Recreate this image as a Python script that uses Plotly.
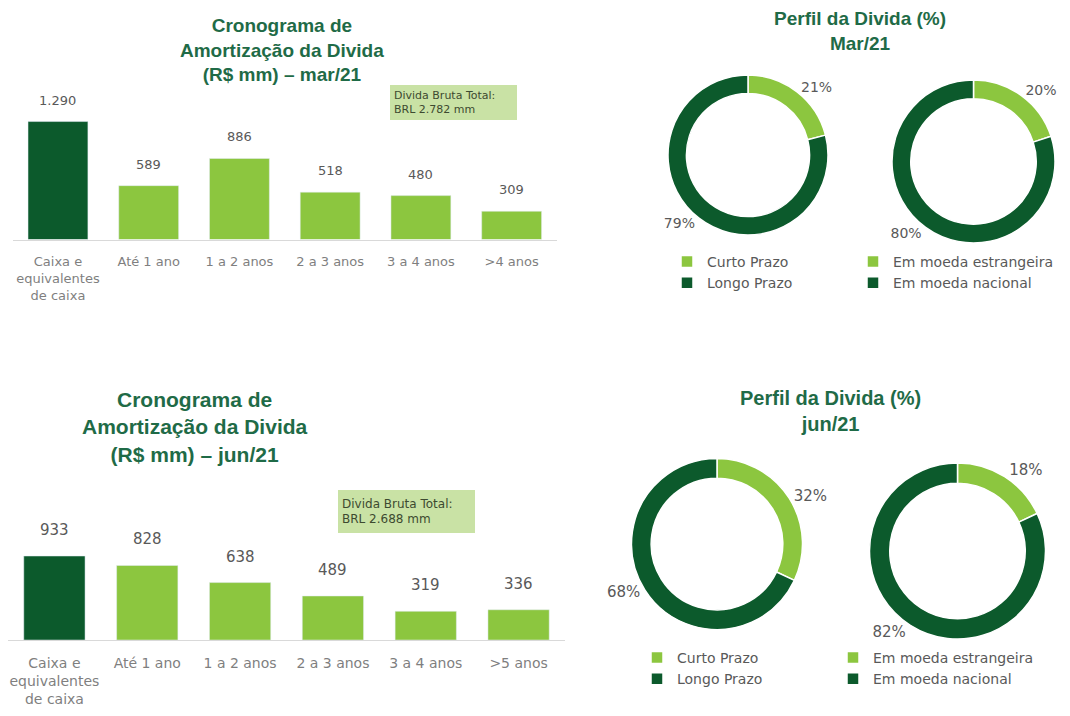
import plotly.graph_objects as go

# ---------------- data ----------------
categories_mar = ["Caixa e<br>equivalentes<br>de caixa", "Até 1 ano", "1 a 2 anos",
                  "2 a 3 anos", "3 a 4 anos", ">4 anos"]
values_mar = [1290, 589, 886, 518, 480, 309]

categories_jun = ["Caixa e<br>equivalentes<br>de caixa", "Até 1 ano", "1 a 2 anos",
                  "2 a 3 anos", "3 a 4 anos", ">5 anos"]
values_jun = [933, 828, 638, 489, 319, 336]

total_mar = "BRL 2.782 mm"
total_jun = "BRL 2.688 mm"

prazo_labels = ["Curto Prazo", "Longo Prazo"]
prazo_mar = [21, 79]
prazo_jun = [32, 68]

moeda_labels = ["Em moeda estrangeira", "Em moeda nacional"]
moeda_mar = [20, 80]
moeda_jun = [18, 82]

# ---------------- style ----------------
OFF = 8                      # default body margin of the html page
W, H = 1070 - OFF, 716 - OFF
DARK = "#0c5a2c"
LIGHT = "#8cc63f"
TITLE_C = "#1f6b47"
TXT = "#595959"
TICK = "#7f7f7f"
FONT = "DejaVu Sans"
TFONT = "Liberation Sans"


def px(x):
    return min(1.0, max(0.0, (x - OFF) / W))


def py(y):
    return min(1.0, max(0.0, 1 - (y - OFF) / H))


def fmt(v):
    return f"{v:,}".replace(",", ".")


def pie_domain(cx, cy, r):
    return dict(x=[px(cx - r), px(cx + r)], y=[py(cy + r), py(cy - r)])


fig = go.Figure()

# ---------------- bar charts ----------------
bar_colors_mar = [DARK] + [LIGHT] * (len(values_mar) - 1)
bar_colors_jun = [DARK] + [LIGHT] * (len(values_jun) - 1)

fig.add_trace(go.Bar(x=categories_mar, y=values_mar, marker_color=bar_colors_mar,
                     xaxis="x", yaxis="y", showlegend=False, hoverinfo="x+y"))
fig.add_trace(go.Bar(x=categories_jun, y=values_jun, marker_color=bar_colors_jun,
                     xaxis="x2", yaxis="y2", showlegend=False, hoverinfo="x+y"))

annotations = []
for c, v in zip(categories_mar, values_mar):
    annotations.append(dict(x=c, y=v, xref="x", yref="y", text=fmt(v), showarrow=False,
                            xanchor="center", yanchor="bottom", yshift=12,
                            font=dict(size=13, color=TXT, family=FONT)))
for c, v in zip(categories_jun, values_jun):
    annotations.append(dict(x=c, y=v, xref="x2", yref="y2", text=fmt(v), showarrow=False,
                            xanchor="center", yanchor="bottom", yshift=15,
                            font=dict(size=15, color=TXT, family=FONT)))

# ---------------- donuts ----------------
pie_common = dict(hole=0.77, sort=False, direction="clockwise", rotation=0,
                  textposition="outside", texttemplate="%{value}%",
                  marker=dict(colors=[LIGHT, DARK], line=dict(color="white", width=1.5)))

fig.add_trace(go.Pie(labels=prazo_labels, values=prazo_mar, domain=pie_domain(748, 155, 80),
                     legend="legend", legendgroup="prazo_mar",
                     textfont=dict(size=14, color=TXT, family=FONT), **pie_common))
fig.add_trace(go.Pie(labels=moeda_labels, values=moeda_mar, domain=pie_domain(973.5, 161.5, 81.5),
                     legend="legend2", legendgroup="moeda_mar",
                     textfont=dict(size=14, color=TXT, family=FONT), **pie_common))
fig.add_trace(go.Pie(labels=prazo_labels, values=prazo_jun, domain=pie_domain(717, 544, 85.5),
                     legend="legend3", legendgroup="prazo_jun",
                     textfont=dict(size=15, color=TXT, family=FONT), **pie_common))
fig.add_trace(go.Pie(labels=moeda_labels, values=moeda_jun, domain=pie_domain(957.5, 551, 88),
                     legend="legend4", legendgroup="moeda_jun",
                     textfont=dict(size=15, color=TXT, family=FONT), **pie_common))

# ---------------- titles ----------------
annotations += [
    dict(x=px(282), y=py(50), xref="paper", yref="paper", showarrow=False,
         xanchor="center", yanchor="middle",
         text="<b>Cronograma de<br>Amortização da Divida<br>(R$ mm) – mar/21</b>",
         font=dict(size=19, color=TITLE_C, family=TFONT)),
    dict(x=px(195), y=py(427), xref="paper", yref="paper", showarrow=False,
         xanchor="center", yanchor="middle",
         text="<b>Cronograma de<br>Amortização da Divida<br>(R$ mm) – jun/21</b>",
         font=dict(size=21, color=TITLE_C, family=TFONT)),
    dict(x=px(860), y=py(31), xref="paper", yref="paper", showarrow=False,
         xanchor="center", yanchor="middle",
         text="<b>Perfil da Divida (%)<br>Mar/21</b>",
         font=dict(size=19, color=TITLE_C, family=TFONT)),
    dict(x=px(830), y=py(411), xref="paper", yref="paper", showarrow=False,
         xanchor="center", yanchor="middle",
         text="<b>Perfil da Divida (%)<br>jun/21</b>",
         font=dict(size=20, color=TITLE_C, family=TFONT)),
    # total debt boxes
    dict(x=px(390), y=py(85), xref="paper", yref="paper", showarrow=False,
         xanchor="left", yanchor="top", align="left", valign="middle",
         text="Divida Bruta Total:<br>" + total_mar, width=119, height=27,
         bgcolor="#c9e2a5", borderpad=4, borderwidth=0,
         font=dict(size=11, color="#3d4a30", family=FONT)),
    dict(x=px(338), y=py(490), xref="paper", yref="paper", showarrow=False,
         xanchor="left", yanchor="top", align="left", valign="middle",
         text="Divida Bruta Total:<br>" + total_jun, width=129, height=35,
         bgcolor="#c9e2a5", borderpad=4, borderwidth=0,
         font=dict(size=12, color="#3d4a30", family=FONT)),
]

axis_x_common = dict(type="category", showgrid=False, zeroline=False, showline=True,
                     linecolor="#d9d9d9", linewidth=1, ticks="", ticklabelstandoff=10,
                     fixedrange=True)
axis_y_common = dict(visible=False, showgrid=False, zeroline=False, fixedrange=True)

legend_common = dict(xanchor="left", yanchor="top", bgcolor="rgba(0,0,0,0)",
                     tracegroupgap=0, itemclick=False, itemdoubleclick=False)
legend_font = dict(size=14, color=TXT, family=FONT)

fig.update_layout(
    width=W, height=H,
    margin=dict(l=0, r=0, t=0, b=0),
    paper_bgcolor="white", plot_bgcolor="white",
    font=dict(family=FONT, color=TXT),
    bargap=0.34,
    xaxis=dict(domain=[px(12.6), px(557)], anchor="y",
               tickfont=dict(size=13, color=TICK, family=FONT), **axis_x_common),
    yaxis=dict(domain=[py(239.5), py(111.5)], anchor="x", range=[0, 1400], **axis_y_common),
    xaxis2=dict(domain=[px(8), px(565)], anchor="y2",
                tickfont=dict(size=14, color=TICK, family=FONT), **axis_x_common),
    yaxis2=dict(domain=[py(640), py(550)], anchor="x2", range=[0, 1000], **axis_y_common),
    legend=dict(x=px(667), y=py(246), font=legend_font, **legend_common),
    legend2=dict(x=px(853), y=py(246), font=legend_font, **legend_common),
    legend3=dict(x=px(637), y=py(642), font=legend_font, **legend_common),
    legend4=dict(x=px(833), y=py(642), font=legend_font, **legend_common),
    annotations=annotations,
    separators=",.",
)

fig.write_html("out.html")
